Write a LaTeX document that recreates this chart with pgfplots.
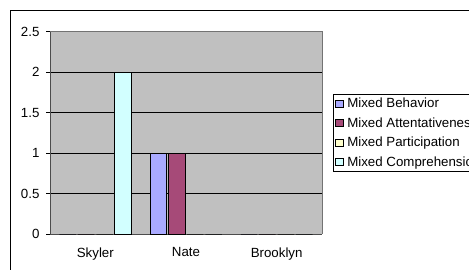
\documentclass[border=0pt]{standalone}
\usepackage{pgfplots}
\pgfplotsset{compat=1.18}
\usepackage{fontspec}
\setmainfont{Liberation Sans}
\definecolor{plotgray}{HTML}{C0C0C0}
\definecolor{cBeh}{HTML}{AAAAFF}
\definecolor{cAtt}{HTML}{A64A78}
\definecolor{cPar}{HTML}{FFFFCC}
\definecolor{cCom}{HTML}{D2FFFF}
\begin{document}
\begin{tikzpicture}[x=1pt,y=1pt]
\useasboundingbox (0,0) rectangle (469,269);
\clip (0,0) rectangle (469,269);
\fill[white] (0,0) rectangle (469,269);
\draw[black,line width=0.8pt] (10,259) rectangle (490,-20);
\begin{axis}[
  at={(50pt,35pt)}, anchor=south west,
  width=272pt, height=202.5pt, scale only axis,
  ybar, bar width=16.45pt,
  xmin=-0.5, xmax=2.5,
  ymin=0, ymax=2.5,
  ytick={0,0.5,...,2.5},
  yticklabels={0,0.5,1,1.5,2,2.5},
  xtick={0,1,2},
  xticklabels={Skyler,Nate,Brooklyn},
  extra x ticks={-0.5,0.5,1.5,2.5},
  extra x tick labels={},
  extra x tick style={major tick length=4pt, tick style={black}, grid=none, xticklabel=\empty},
  major x tick style={draw=none},
  x tick label style={yshift=-6pt},
  y tick label style={xshift=-3pt},
  tick align=outside,
  major tick length=4pt,
  ytick style={black},
  ymajorgrids,
  major grid style={black, line width=0.6pt},
  axis background/.style={fill=plotgray},
  axis line style={draw=gray!90!black, line width=0.8pt},
  separate axis lines,
  x axis line style={draw=black!70},
  y axis line style={draw=black!70},
  axis x line*=bottom, axis y line*=left,
  tick label style={font=\fontsize{13.3}{15}\selectfont},
  /pgf/number format/assume math mode=true,
  legend style={at={(1.0405,0.692)}, anchor=north west, draw=black, fill=white,
    font=\fontsize{13.3}{15}\selectfont, row sep=4.3pt, inner xsep=2pt, inner ysep=2pt,
    cells={anchor=west}, /tikz/every odd column/.style={column sep=2pt}},
  legend image code/.code={\draw[#1,draw=black,line width=0.5pt] (0pt,-3.6pt) rectangle (7.6pt,3.6pt);},
  every axis plot/.append style={draw=black, line width=0.6pt},
  clip=false,
]
\addplot[fill=cBeh] coordinates {(0,0) (1,1) (2,0)};
\addplot[fill=cAtt] coordinates {(0,0) (1,1) (2,0)};
\addplot[fill=cPar] coordinates {(0,0) (1,0) (2,0)};
\addplot[fill=cCom] coordinates {(0,2) (1,0) (2,0)};
\legend{Mixed Behavior,Mixed Attentativeness,Mixed Participation,Mixed Comprehension}
\draw[gray!90!black, line width=0.8pt] (axis cs:-0.5,2.5) -- (axis cs:2.5,2.5) -- (axis cs:2.5,0);
\end{axis}
\end{tikzpicture}
\end{document}
